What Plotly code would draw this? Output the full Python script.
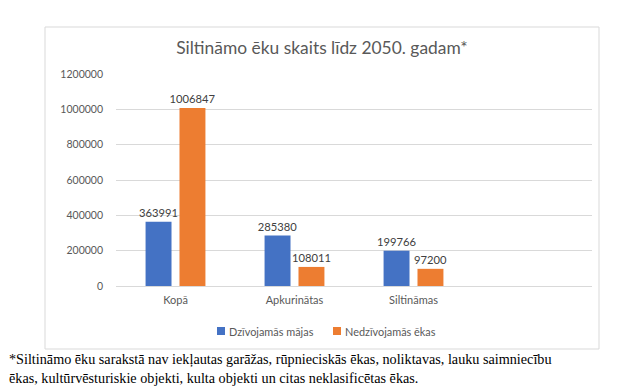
import plotly.graph_objects as go

categories = ["Kopā", "Apkurinātas", "Siltināmas"]
residential = [363991, 285380, 199766]
non_residential = [1006847, 108011, 97200]
series_names = ["Dzīvojamās mājas", "Nedzīvojamās ēkas"]
series_colors = ["#4472C4", "#ED7D31"]
y_ticks = [0, 200000, 400000, 600000, 800000, 1000000, 1200000]

title_text = "Siltināmo ēku skaits līdz 2050. gadam*"
footnote_lines = [
    "*Siltināmo ēku sarakstā nav iekļautas garāžas, rūpnieciskās ēkas, noliktavas, lauku saimniecību",
    "ēkas, kultūrvēsturiskie objekti, kulta objekti un citas neklasificētas ēkas.",
]

FONT = "Lato"
TXT = "#595959"

# page body has an 8px default margin: work in reference pixel coords minus OFF
OFF = 8
W, H = 642 - OFF, 390 - OFF
L, R, T, B = 116 - OFF, 592 - OFF, 74 - OFF, 286 - OFF


def px(x):
    return (x - OFF - L) / (R - L)


def py(y):
    return (B - (y - OFF)) / (B - T)


fig = go.Figure()
for name, vals, col in zip(series_names, [residential, non_residential], series_colors):
    fig.add_trace(go.Bar(
        x=categories, y=vals, name=name,
        marker=dict(color=col, line=dict(width=0)),
        text=[str(v) for v in vals], textposition="outside",
        textfont=dict(family=FONT, size=11.2, color="#404040"),
        constraintext="none", cliponaxis=False, showlegend=False,
    ))

fig.update_layout(
    width=W, height=H,
    margin=dict(l=L, r=W - R, t=T, b=H - B, pad=0, autoexpand=False),
    paper_bgcolor="white", plot_bgcolor="white",
    barmode="group", bargap=0.43, bargroupgap=0.235,
    font=dict(family=FONT, color=TXT),
    title=dict(text=title_text, x=(322 - OFF) / W, xref="container", xanchor="center",
               y=1 - (48 - OFF) / H, yref="container", yanchor="middle",
               font=dict(family=FONT, size=17.4, color=TXT)),
    xaxis=dict(range=[-0.5, 3.5], showgrid=False, showline=True,
               linecolor="#d9d9d9", linewidth=1, ticks="",
               ticklabelstandoff=4,
               tickfont=dict(family=FONT, size=11, color=TXT), fixedrange=True),
    yaxis=dict(range=[0, 1200000], tickvals=y_ticks, tickformat="d",
               showgrid=True, gridcolor="#d9d9d9", gridwidth=1,
               zeroline=False, showline=False, ticks="",
               ticklabelstandoff=12,
               tickfont=dict(family=FONT, size=10.5, color=TXT)),
    showlegend=False,
)

fig.add_shape(type="rect", xref="paper", yref="paper",
              x0=px(45), x1=px(599), y0=py(349), y1=py(27),
              line=dict(color="#d9d9d9", width=1), fillcolor="rgba(0,0,0,0)",
              layer="below")

# custom legend (Excel-style small squares)
legend_x = [217, 333]
for name, col, lx in zip(series_names, series_colors, legend_x):
    fig.add_shape(type="rect", xref="paper", yref="paper",
                  x0=px(lx), x1=px(lx + 8), y0=py(335), y1=py(327),
                  line=dict(width=0), fillcolor=col)
    fig.add_annotation(text=name, xref="paper", yref="paper",
                       x=px(lx + 10), y=py(331), xanchor="left", yanchor="middle",
                       showarrow=False,
                       font=dict(family=FONT, size=10.9, color=TXT))

for i, line in enumerate(footnote_lines):
    fig.add_annotation(text=line, xref="paper", yref="paper",
                       x=px(7), y=py(359 + i * 19), xanchor="left", yanchor="middle",
                       showarrow=False,
                       font=dict(family="Liberation Serif", size=14.2, color="black"))

fig.write_html("out.html")
